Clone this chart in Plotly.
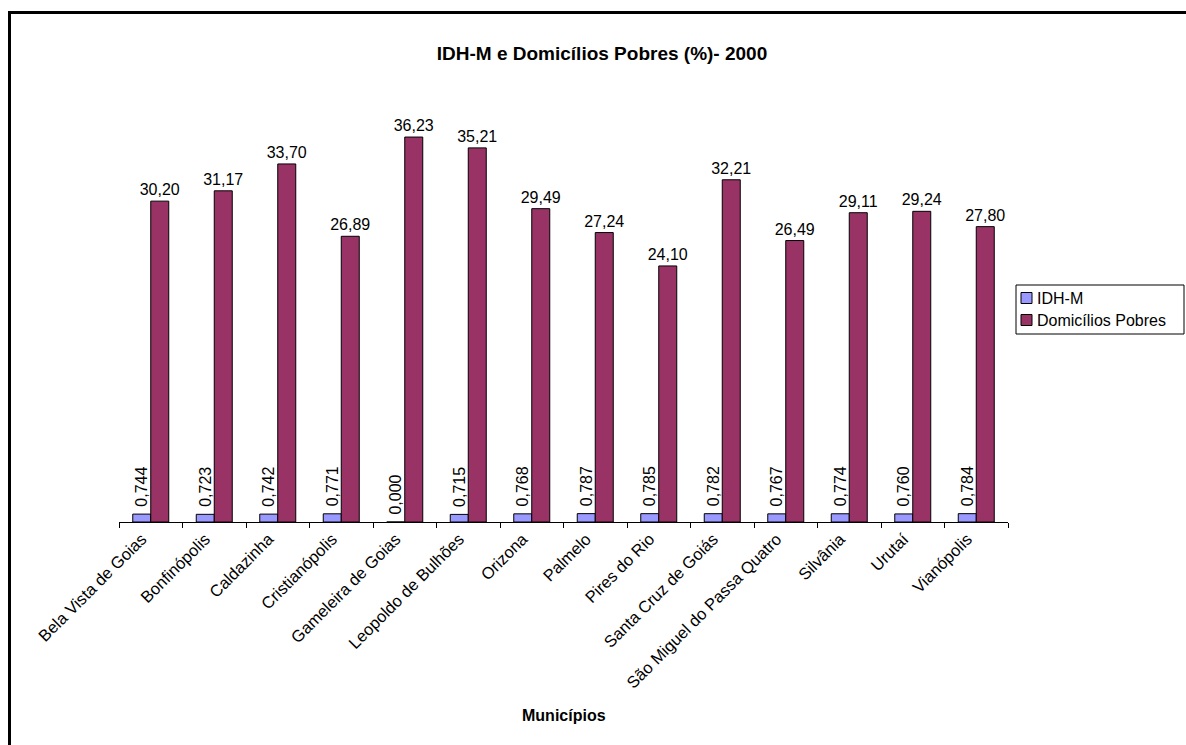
import plotly.graph_objects as go

categories = ["Bela Vista de Goias", "Bonfinópolis", "Caldazinha", "Cristianópolis",
              "Gameleira de Goias", "Leopoldo de Bulhões", "Orizona", "Palmelo",
              "Pires do Rio", "Santa Cruz de Goiás", "São Miguel do Passa Quatro",
              "Silvânia", "Urutaí", "Vianópolis"]
idhm = [0.744, 0.723, 0.742, 0.771, 0.000, 0.715, 0.768, 0.787, 0.785, 0.782,
        0.767, 0.774, 0.760, 0.784]
domicilios = [30.20, 31.17, 33.70, 26.89, 36.23, 35.21, 29.49, 27.24, 24.10, 32.21,
              26.49, 29.11, 29.24, 27.80]
series_names = ["IDH-M", "Domicílios Pobres"]
series_colors = ["#9999FF", "#993366"]

FONT = "Arial, Liberation Sans, sans-serif"
W, H = 1186, 745
L, R, T, B = 119, 178, 97, 223
pw, ph = W - L - R, H - T - B

def px_x(x):
    return (x - L) / pw

def px_y(y):
    return (H - B - y) / ph

fig = go.Figure()
fig.add_trace(go.Bar(
    x=categories, y=idhm, name=series_names[0],
    marker=dict(color=series_colors[0], line=dict(color="#000000", width=1)),
    texttemplate="\u00a0%{y:.3f}", textposition="outside", textangle=-90,
    constraintext="none",
    textfont=dict(family=FONT, size=16, color="#000000"), cliponaxis=False,
))
fig.add_trace(go.Bar(
    x=categories, y=domicilios, name=series_names[1],
    marker=dict(color=series_colors[1], line=dict(color="#000000", width=1)),
    texttemplate="%{y:.2f}", textposition="outside", textangle=0,
    constraintext="none",
    textfont=dict(family=FONT, size=16, color="#000000"), cliponaxis=False,
))

fig.update_layout(
    width=W, height=H,
    margin=dict(l=L, r=R, t=T, b=B),
    paper_bgcolor="white", plot_bgcolor="white",
    separators=",.",
    barmode="group", bargap=0.433, bargroupgap=0,
    font=dict(family=FONT, size=16, color="#000000"),
    title=dict(text="<b>IDH-M e Domicílios Pobres (%)- 2000</b>",
               x=602 / W, xanchor="center", y=1 - 53 / H, yanchor="middle",
               font=dict(family=FONT, size=19, color="#000000")),
    showlegend=False,
    xaxis=dict(type="category", showline=True, linecolor="#000000", linewidth=1,
               ticks="outside", tickson="boundaries", ticklen=5, tickcolor="#000000",
               tickangle=-45, tickfont=dict(family=FONT, size=16.5, color="#000000"),
               ticklabelshift=-9,
               showgrid=False, zeroline=False),
    yaxis=dict(range=[0, 40], visible=False, showgrid=False, zeroline=False),
)

# legend (drawn manually to match the original box layout)
fig.add_shape(type="rect", xref="paper", yref="paper",
              x0=px_x(1016), x1=px_x(1184), y0=px_y(334), y1=px_y(285),
              line=dict(color="#000000", width=1), fillcolor="white")
for i, (name, col) in enumerate(zip(series_names, series_colors)):
    cy = 298 + i * 22
    fig.add_shape(type="rect", xref="paper", yref="paper",
                  x0=px_x(1021), x1=px_x(1032), y0=px_y(cy + 5.5), y1=px_y(cy - 5.5),
                  line=dict(color="#000000", width=1), fillcolor=col)
    fig.add_annotation(text=name, xref="paper", yref="paper",
                       x=px_x(1035), y=px_y(cy), xanchor="left", yanchor="middle",
                       showarrow=False, font=dict(family=FONT, size=16, color="#000000"))

fig.add_annotation(text="<b>Municípios</b>", xref="paper", yref="paper",
                   x=px_x(564), y=px_y(715), xanchor="center", yanchor="middle",
                   showarrow=False, font=dict(family=FONT, size=16, color="#000000"))

fig.add_shape(type="rect", xref="paper", yref="paper",
              x0=px_x(9.5), x1=px_x(1300), y0=px_y(900), y1=px_y(12.5),
              line=dict(color="#000000", width=3), fillcolor="rgba(0,0,0,0)", layer="above")

fig.write_html("out.html")
